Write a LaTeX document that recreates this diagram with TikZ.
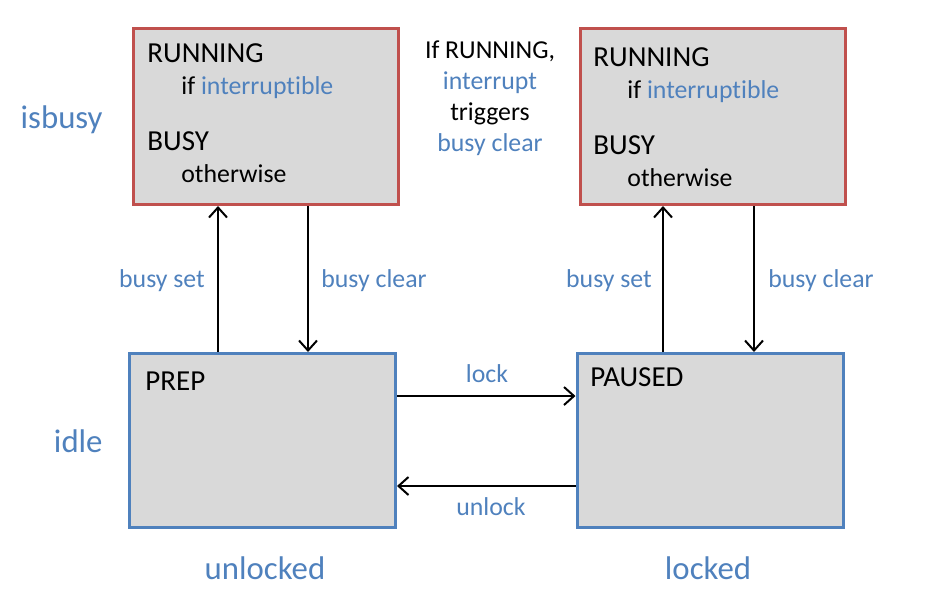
\documentclass[tikz,border=0pt]{standalone}
\usepackage{fontspec}
\setmainfont{Carlito}[Ligatures=NoCommon]
\usetikzlibrary{arrows.meta}

\definecolor{boxred}{HTML}{C0504D}
\definecolor{boxblue}{HTML}{4F81BD}
\definecolor{boxfill}{HTML}{D9D9D9}

\tikzset{
    busybox/.style={draw=boxred, fill=boxfill, line width=1.5pt,
        minimum width=132.5pt, minimum height=88pt, inner sep=0pt},
    idlebox/.style={draw=boxblue, fill=boxfill, line width=1.5pt,
        minimum width=133pt, minimum height=87pt, inner sep=0pt},
    arr/.style={-{Straight Barb[length=5pt,width=9pt]}, line width=1pt},
    statetxt/.style={anchor=base west, inner sep=0pt, font=\fontsize{14.5pt}{17pt}\selectfont},
    subtxt/.style={anchor=base west, inner sep=0pt, font=\fontsize{12.9pt}{15pt}\selectfont},
    lbl/.style={anchor=base, inner sep=0pt, text=boxblue, font=\fontsize{12.9pt}{15pt}\selectfont},
    axis/.style={inner sep=0pt, text=boxblue, font=\fontsize{16.4pt}{19pt}\selectfont}
}

\begin{document}
\begin{tikzpicture}[x=0.5pt, y=-0.5pt]

    \useasboundingbox (0, 0) rectangle (926, 602);

    % Busy states
    \node[busybox] (runL) at (266, 116.5) {};
    \node[busybox] (runR) at (712.5, 116.5) {};

    \node[statetxt] (runLa) at (147, 62) {RUNNING};
    \node[subtxt] (runLb) at (181, 94) {if \textcolor{boxblue}{interruptible}};
    \node[statetxt] (runLc) at (147, 150) {BUSY};
    \node[subtxt] (runLd) at (181, 182) {otherwise};

    \node[statetxt] (runRa) at (593, 66) {RUNNING};
    \node[subtxt] (runRb) at (627, 98) {if \textcolor{boxblue}{interruptible}};
    \node[statetxt] (runRc) at (593, 154) {BUSY};
    \node[subtxt] (runRd) at (627, 186) {otherwise};

    % Idle states
    \node[idlebox] (prep) at (262.5, 440.5) {};
    \node[idlebox] (paused) at (710, 440.5) {};

    \node[statetxt] (prepa) at (145, 390) {PREP};
    \node[statetxt] (pauseda) at (590, 386) {PAUSED};

    % Transitions
    \draw[arr] (prep.north -| 218, 0) -- (runL.south -| 218, 0);
    \draw[arr] (runL.south -| 308, 0) -- (prep.north -| 308, 0);
    \draw[arr] (paused.north -| 663, 0) -- (runR.south -| 663, 0);
    \draw[arr] (runR.south -| 754, 0) -- (paused.north -| 754, 0);
    \draw[arr] (prep.east |- 0, 396) -- (paused.west |- 0, 396);
    \draw[arr] (paused.west |- 0, 486) -- (prep.east |- 0, 486);

    \node[lbl] (setL) at (162, 287) {busy set};
    \node[lbl] (clrL) at (374, 287) {busy clear};
    \node[lbl] (setR) at (609, 287) {busy set};
    \node[lbl] (clrR) at (821, 287) {busy clear};
    \node[lbl] (lock) at (487, 382) {lock};
    \node[lbl] (unlock) at (491, 515) {unlock};

    % Note between the busy states
    \node[lbl, text=black] (note1) at (490, 58) {If RUNNING,};
    \node[lbl] (note2) at (490, 89) {interrupt};
    \node[lbl, text=black] (note3) at (490, 120) {triggers};
    \node[lbl] (note4) at (490, 151) {busy clear};

    % Axis labels
    \node[axis, anchor=base east] (isbusy) at (103, 128) {isbusy};
    \node[axis, anchor=base east] (idle) at (103, 452) {idle};
    \node[axis, anchor=base] (unlocked) at (265, 579) {unlocked};
    \node[axis, anchor=base] (locked) at (708, 579) {locked};

\end{tikzpicture}
\end{document}
